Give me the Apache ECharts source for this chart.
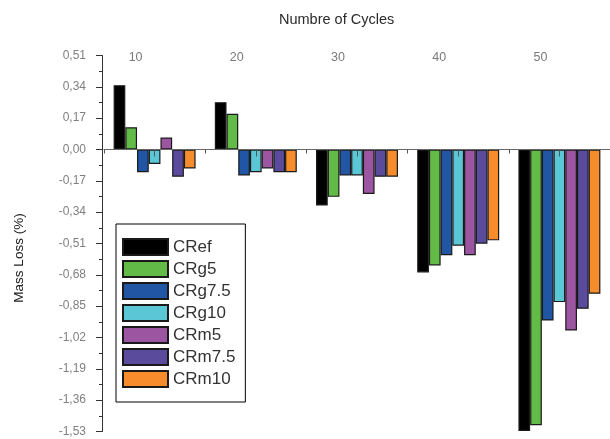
<!DOCTYPE html>
<html>
<head>
<meta charset="utf-8">
<script src="https://cdn.jsdelivr.net/npm/echarts@6/dist/echarts.min.js"></script>
<style>
html,body{margin:0;padding:0;background:#fff;}
#chart{width:610px;height:439px;}
</style>
</head>
<body>
<div id="chart"></div>
<script>
// ---- data ----
const cycles = ['10', '20', '30', '40', '50'];
const seriesNames = ['CRef', 'CRg5', 'CRg7.5', 'CRg10', 'CRm5', 'CRm7.5', 'CRm10'];
const CRef   = [0.349, 0.257, -0.304, -0.667, -1.527];
const CRg5   = [0.121, 0.194, -0.257, -0.629, -1.496];
const CRg7_5 = [-0.123, -0.141, -0.141, -0.574, -0.928];
const CRg10  = [-0.078, -0.123, -0.141, -0.522, -0.828];
const CRm5   = [0.065, -0.103, -0.241, -0.574, -0.982];
const CRm7_5 = [-0.148, -0.123, -0.148, -0.511, -0.864];
const CRm10  = [-0.103, -0.123, -0.148, -0.493, -0.783];
const yMin = -1.53, yMax = 0.51, yStep = 0.17;

const values = [CRef, CRg5, CRg7_5, CRg10, CRm5, CRm7_5, CRm10];
const colors = ['#000000', '#63bb47', '#2156a5', '#5bc7d6', '#9c55a0', '#5b4b9c', '#f68c2b'];

const chart = echarts.init(document.getElementById('chart'), null, {renderer: 'canvas'});
const font = '"Liberation Sans", Arial, sans-serif';

const series = seriesNames.map((n, i) => ({
  name: n,
  type: 'bar',
  xAxisIndex: 1,
  yAxisIndex: 0,
  data: values[i],
  barGap: '0%',
  barCategoryGap: '19%',
  itemStyle: {color: colors[i], borderColor: '#1a1a1a', borderWidth: 1.2}
}));

const option = {
  animation: false,
  backgroundColor: '#fff',
  title: {
    text: 'Numbre of Cycles',
    left: 274, top: 7,
    textStyle: {fontFamily: font, fontSize: 14.5, fontWeight: 'normal', color: '#2a2a2a'}
  },
  graphic: [{
    type: 'text',
    x: 19, y: 258,
    rotation: Math.PI / 2,
    style: {text: 'Mass Loss (%)', fontFamily: font, fontSize: 13.5, fill: '#222', align: 'center', verticalAlign: 'middle'}
  }],
  grid: {left: 104, right: -2, top: 55.5, bottom: 7.5, containLabel: false},
  legend: {
    orient: 'vertical',
    left: 116, top: 224,
    padding: [14, 10, 14, 6],
    itemGap: 4,
    itemWidth: 45, itemHeight: 16,
    borderColor: '#000', borderWidth: 1,
    backgroundColor: '#fff',
    icon: 'rect',
    textStyle: {fontFamily: font, fontSize: 17, color: '#333', lineHeight: 16},
    data: seriesNames
  },
  xAxis: [
    {
      type: 'category', data: cycles, position: 'top',
      axisLine: {show: false, onZero: false}, axisTick: {show: false},
      axisLabel: {fontFamily: font, fontSize: 12.5, color: '#7a7a7a', margin: -2, verticalAlign: 'middle', padding: [0, 38, 0, 0]},
      splitLine: {show: false}
    },
    {
      type: 'category', data: cycles, position: 'top', z: 5,
      axisLine: {show: true, onZero: true, lineStyle: {color: '#666', width: 1}},
      axisTick: {show: true, inside: true, length: 4, alignWithLabel: false, lineStyle: {color: '#555'}},
      axisLabel: {show: false},
      splitLine: {show: false}
    },
    {
      type: 'category', data: cycles, position: 'top', z: 5,
      axisLine: {show: true, onZero: true, lineStyle: {opacity: 0}},
      axisTick: {show: true, inside: true, length: 7, alignWithLabel: true, lineStyle: {color: '#555'}},
      axisLabel: {show: false},
      splitLine: {show: false}
    }
  ],
  yAxis: [
    {
      type: 'value', min: yMin, max: yMax, interval: yStep, offset: 2,
      axisLine: {show: true, onZero: false, lineStyle: {color: '#333'}},
      axisTick: {show: true, length: 6, lineStyle: {color: '#333'}},
      minorTick: {show: true, splitNumber: 2, length: 3, lineStyle: {color: '#333'}},
      splitLine: {show: false},
      axisLabel: {
        fontFamily: font, fontSize: 12, color: '#808080', margin: 16,
        formatter: v => (Math.abs(v) < 1e-9 ? 0 : v).toFixed(2).replace('.', ',')
      }
    },
    {
      type: 'value', min: yMin, max: yMax, interval: yStep, position: 'left', offset: 2,
      axisLine: {show: false, onZero: false}, axisTick: {show: false},
      axisLabel: {show: false}, splitLine: {show: false}
    }
  ],
  series: series
};
chart.setOption(option);
</script>
</body>
</html>
